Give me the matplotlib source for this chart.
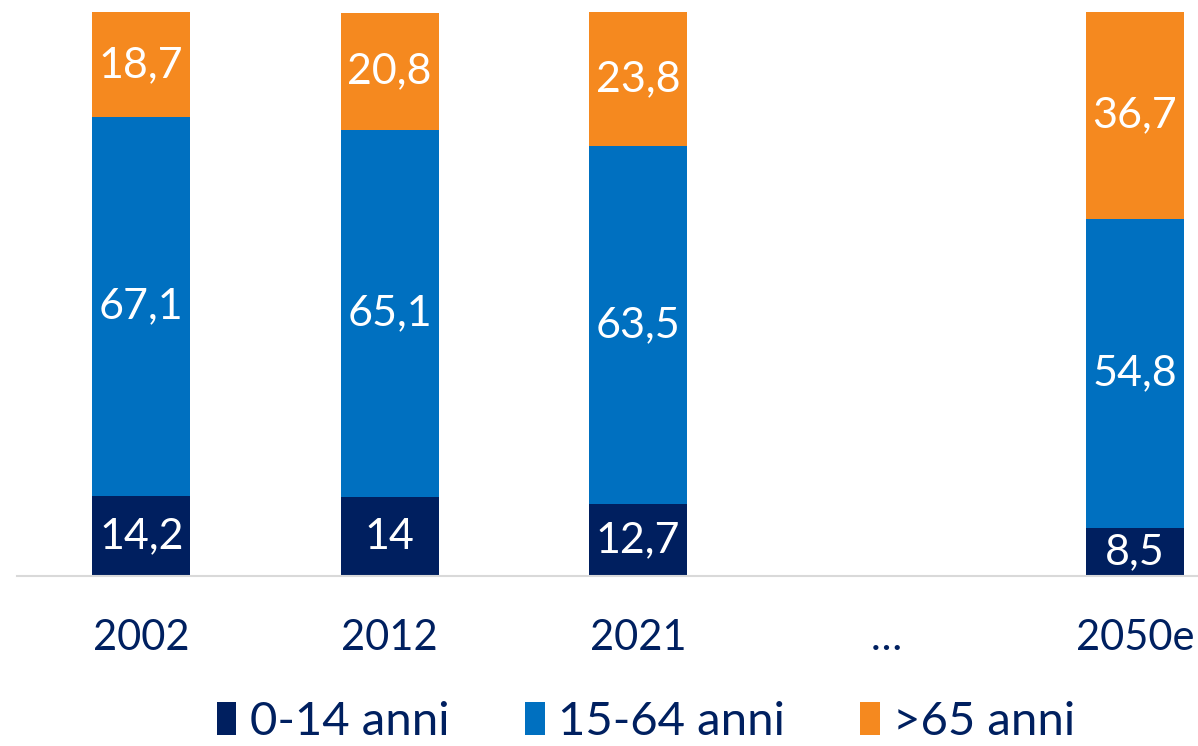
import numpy as np
import matplotlib
matplotlib.use("Agg")
import matplotlib.pyplot as plt

plt.rcParams['font.family'] = ['Lato', 'DejaVu Sans']

categories = ['2002', '2012', '2021', '…', '2050e']
age_0_14 = [14.2, 14.0, 12.7, np.nan, 8.5]
age_15_64 = [67.1, 65.1, 63.5, np.nan, 54.8]
age_65 = [18.7, 20.8, 23.8, np.nan, 36.7]
label_0_14 = ['14,2', '14', '12,7', '', '8,5']
label_15_64 = ['67,1', '65,1', '63,5', '', '54,8']
label_65 = ['18,7', '20,8', '23,8', '', '36,7']
series_names = ['0-14 anni', '15-64 anni', '>65 anni']
colors = ['#001F5F', '#0070C0', '#F5891F']
text_color = '#002060'

W, H = 1198, 746
fig = plt.figure(figsize=(W / 100, H / 100), dpi=100)
ax = fig.add_axes([17 / W, 1 - 576 / H, (W - 17) / W, (576 - 12) / H])

x = np.arange(len(categories))
width = 0.395
a = np.array(age_0_14, dtype=float)
b = np.array(age_15_64, dtype=float)
c = np.array(age_65, dtype=float)

bars = []
bars.append(ax.bar(x, a, width, color=colors[0], label=series_names[0]))
bars.append(ax.bar(x, b, width, bottom=a, color=colors[1], label=series_names[1]))
bars.append(ax.bar(x, c, width, bottom=a + b, color=colors[2], label=series_names[2]))

fs = 30
for bc, labs in zip(bars, [label_0_14, label_15_64, label_65]):
    ax.bar_label(bc, labels=labs, label_type='center', color='white', fontsize=31)

ax.set_xlim(-0.5, (W - 141) / 248.5)
ax.set_ylim(0, 100)
ax.set_xticks(x)
ax.set_xticklabels(categories, fontsize=fs, color=text_color)
ax.tick_params(axis='x', length=0, pad=31)
ax.set_yticks([])
for s in ['left', 'right', 'top']:
    ax.spines[s].set_visible(False)
ax.spines['bottom'].set_color('#D9D9D9')
ax.spines['bottom'].set_linewidth(1.5)

leg = fig.legend(handles=bars, labels=series_names, loc='center',
                 bbox_to_anchor=(646 / W, 1 - 722 / H), ncol=3, frameon=False,
                 fontsize=34, handlelength=0.42, handleheight=0.68,
                 handletextpad=0.28, columnspacing=1.6, borderpad=0, borderaxespad=0)
for t in leg.get_texts():
    t.set_color(text_color)

fig.savefig('out.png', dpi=100)
